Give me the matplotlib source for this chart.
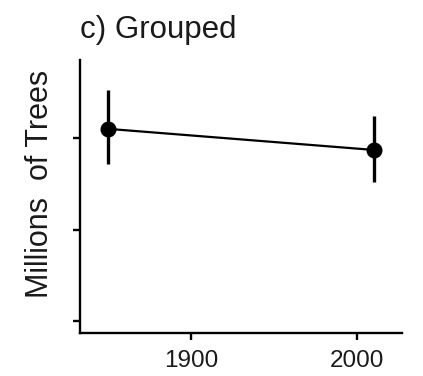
import numpy as np
import matplotlib
matplotlib.use("Agg")
import matplotlib.pyplot as plt

plt.rcParams['font.family'] = ['Liberation Sans', 'DejaVu Sans']

# data (y units are arbitrary: tick labels are hidden)
years = [1850, 2010]
trees = [3.10, 2.87]
err_low = [0.38, 0.35]
err_high = [0.42, 0.37]
x_ticks = [1900, 2000]
y_ticks = [1, 2, 3]

fig = plt.figure(figsize=(4.23, 3.76), dpi=100)
ax = fig.add_axes([0.189, 0.114, 0.761, 0.726])

ax.plot(years, trees, color='black', lw=1.6, zorder=2)
ax.errorbar(years, trees, yerr=[err_low, err_high], fmt='o', color='black',
            ms=10.5, elinewidth=2.4, capsize=0, zorder=3)

ax.set_xlim(1833, 2027)
ax.set_ylim(0.87, 3.85)
ax.set_xticks(x_ticks)
ax.set_yticks(y_ticks)
ax.set_yticklabels([])

for s in ['top', 'right']:
    ax.spines[s].set_visible(False)
for s in ['left', 'bottom']:
    ax.spines[s].set_linewidth(1.7)
ax.tick_params(axis='both', direction='out', length=5, width=1.7,
               labelsize=17.5, colors='black', labelcolor='#1a1a1a', pad=7)

ax.set_ylabel('Millions  of Trees', fontsize=22, color='#1a1a1a')
ax.yaxis.set_label_coords(-0.078, 0.546)
ax.set_title('c) Grouped', loc='left', fontsize=22.5, color='#1a1a1a', pad=16)

fig.savefig('out.png', dpi=100)
